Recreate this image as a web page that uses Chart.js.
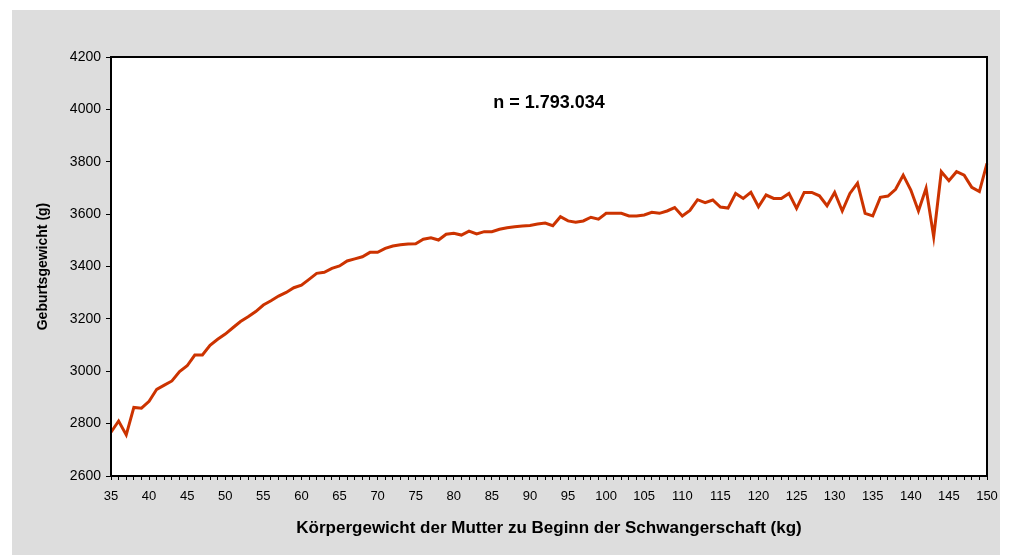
<!DOCTYPE html>
<html>
<head>
<meta charset="utf-8">
<script src="https://cdn.jsdelivr.net/npm/chart.js@4.4.1/dist/chart.umd.min.js"></script>
<style>
  body { margin: 0; background: #fff; }
  #wrap { width: 1012px; height: 558px; }
</style>
</head>
<body>
<div id="wrap"><canvas id="chart" width="1012" height="558"></canvas></div>
<script>
// maternal weight (kg)
var weights = [35, 36, 37, 38, 39, 40, 41, 42, 43, 44, 45, 46, 47, 48, 49, 50, 51, 52, 53, 54,
  55, 56, 57, 58, 59, 60, 61, 62, 63, 64, 65, 66, 67, 68, 69, 70, 71, 72, 73, 74,
  75, 76, 77, 78, 79, 80, 81, 82, 83, 84, 85, 86, 87, 88, 89, 90, 91, 92, 93, 94,
  95, 96, 97, 98, 99, 100, 101, 102, 103, 104, 105, 106, 107, 108, 109, 110, 111, 112, 113, 114,
  115, 116, 117, 118, 119, 120, 121, 122, 123, 124, 125, 126, 127, 128, 129, 130, 131, 132, 133, 134,
  135, 136, 137, 138, 139, 140, 141, 142, 143, 144, 145, 146, 147, 148, 149, 150];

// mean birth weight (g)
var birthWeights = [2767, 2810, 2757, 2862, 2859, 2885, 2931, 2947, 2963, 2999, 3021, 3062, 3062, 3099, 3122, 3142, 3166, 3190, 3208, 3228,
  3253, 3269, 3287, 3301, 3319, 3329, 3351, 3374, 3378, 3393, 3402, 3421, 3429, 3437, 3454, 3454, 3469, 3478, 3483, 3486,
  3487, 3504, 3510, 3501, 3523, 3527, 3520, 3535, 3524, 3533, 3533, 3542, 3548, 3552, 3555, 3557, 3562, 3566, 3556, 3590,
  3574, 3569, 3574, 3588, 3581, 3603, 3603, 3603, 3593, 3593, 3597, 3607, 3603, 3612, 3625, 3593, 3614, 3655, 3644, 3654,
  3627, 3623, 3679, 3660, 3683, 3628, 3673, 3660, 3660, 3679, 3622, 3683, 3683, 3670, 3632, 3683, 3612, 3679, 3718, 3603,
  3593, 3664, 3669, 3695, 3749, 3692, 3612, 3699, 3514, 3762, 3728, 3762, 3749, 3702, 3686, 3794];

var yTicks = [2600, 2800, 3000, 3200, 3400, 3600, 3800, 4000, 4200];
var annotation = "n = 1.793.034";

// background: gray panel + white plot area + black frame + n label
var framePlugin = {
  id: "frame",
  beforeDraw: function(chart) {
    var ctx = chart.ctx;
    var a = chart.chartArea;
    ctx.save();
    ctx.fillStyle = "#ffffff";
    ctx.fillRect(0, 0, chart.width, chart.height);
    ctx.fillStyle = "#dddddd";
    ctx.fillRect(12, 10, 988, 545);
    ctx.fillStyle = "#ffffff";
    ctx.fillRect(a.left, a.top, a.right - a.left, a.bottom - a.top);
    ctx.restore();
  },
  afterDraw: function(chart) {
    var ctx = chart.ctx;
    var a = chart.chartArea;
    ctx.save();
    ctx.strokeStyle = "#000";
    ctx.lineWidth = 2;
    ctx.strokeRect(a.left, a.top, a.right - a.left, a.bottom - a.top);
    ctx.fillStyle = "#000";
    ctx.font = "bold 18px 'Liberation Sans', Arial, sans-serif";
    ctx.textAlign = "center";
    ctx.textBaseline = "middle";
    ctx.fillText(annotation, (a.left + a.right) / 2, a.top + 46);
    ctx.restore();
  }
};

var ctx = document.getElementById("chart").getContext("2d");
var chart = new Chart(ctx, {
  type: "line",
  data: {
    labels: weights,
    datasets: [{
      data: birthWeights,
      borderColor: "#cc3300",
      borderWidth: 3,
      pointRadius: 0,
      tension: 0,
      fill: false
    }]
  },
  options: {
    responsive: false,
    animation: false,
    layout: { padding: { left: 12, top: 57, right: 25, bottom: 10 } },
    plugins: {
      legend: { display: false },
      tooltip: { enabled: false }
    },
    scales: {
      x: {
        type: "category",
        offset: false,
        border: { display: false },
        grid: { drawOnChartArea: false, color: "#000", tickLength: 4, offset: false },
        ticks: {
          autoSkip: false,
          maxRotation: 0,
          color: "#000",
          padding: 9,
          font: { family: "'Liberation Sans Narrow', 'Liberation Sans', Arial", size: 13 },
          callback: function(v, i) {
            var w = weights[i];
            return w % 5 === 0 ? String(w) : "";
          }
        },
        title: {
          display: true,
          text: "Körpergewicht der Mutter zu Beginn der Schwangerschaft (kg)",
          color: "#000",
          font: { family: "'Liberation Sans', Arial", size: 17, weight: "bold" },
          padding: { top: 0, bottom: 9 }
        },
        afterFit: function(scale) { scale.height = 72; }
      },
      y: {
        min: yTicks[0],
        max: yTicks[yTicks.length - 1],
        border: { display: false },
        grid: { drawOnChartArea: false, color: "#000", tickLength: 5 },
        afterBuildTicks: function(scale) {
          scale.ticks = yTicks.map(function(v) { return { value: v }; });
        },
        ticks: {
          color: "#000",
          padding: 5,
          font: { family: "'Liberation Sans', Arial", size: 14 },
          callback: function(v) { return String(v); }
        },
        title: {
          display: true,
          text: "Geburtsgewicht (g)",
          color: "#000",
          font: { family: "'Liberation Sans', Arial", size: 14, weight: "bold" },
          padding: { top: 23, bottom: 0 }
        },
        afterFit: function(scale) { scale.width = 99; }
      }
    }
  },
  plugins: [framePlugin]
});
</script>
</body>
</html>
